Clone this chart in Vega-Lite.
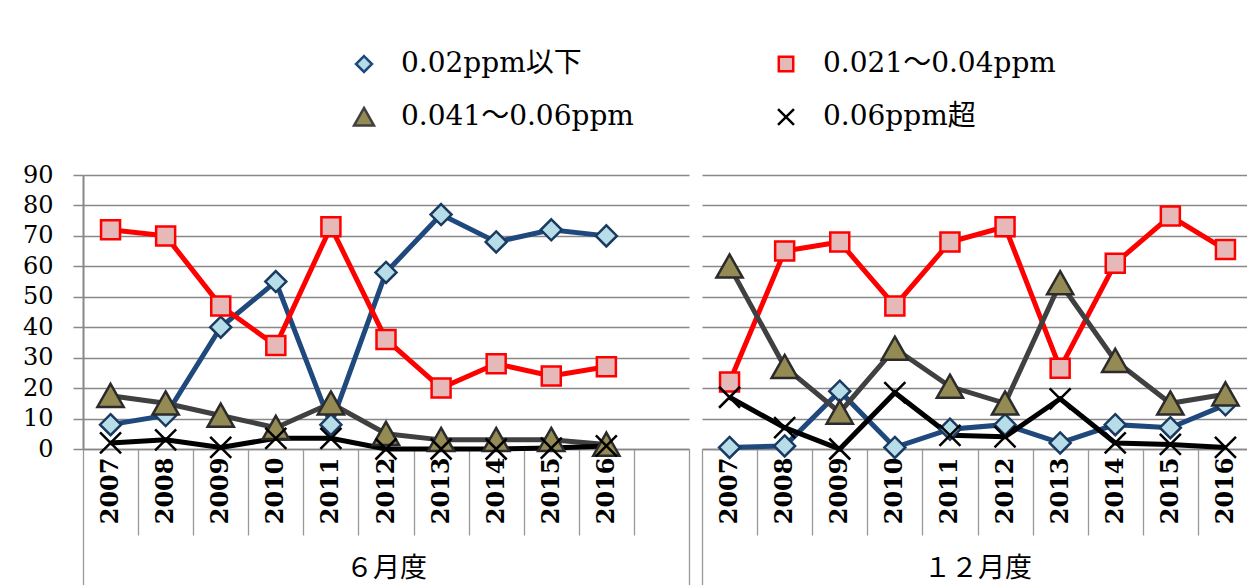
{
  "$schema": "https://vega.github.io/schema/vega-lite/v6.json",
  "background": "white",
  "padding": {"left": 22, "top": 50, "right": 0, "bottom": 0},
  "spacing": 0,
  "config": {
    "view": {"stroke": null},
    "font": "DejaVu Serif, Noto Sans CJK JP"
  },
  "data": {"values": [
    {"g": "６月度", "year": "2007", "s": "0.02ppm以下", "v": 8},
    {"g": "６月度", "year": "2008", "s": "0.02ppm以下", "v": 11},
    {"g": "６月度", "year": "2009", "s": "0.02ppm以下", "v": 40},
    {"g": "６月度", "year": "2010", "s": "0.02ppm以下", "v": 55},
    {"g": "６月度", "year": "2011", "s": "0.02ppm以下", "v": 8},
    {"g": "６月度", "year": "2012", "s": "0.02ppm以下", "v": 58},
    {"g": "６月度", "year": "2013", "s": "0.02ppm以下", "v": 77},
    {"g": "６月度", "year": "2014", "s": "0.02ppm以下", "v": 68},
    {"g": "６月度", "year": "2015", "s": "0.02ppm以下", "v": 72},
    {"g": "６月度", "year": "2016", "s": "0.02ppm以下", "v": 70},
    {"g": "６月度", "year": "2007", "s": "0.021～0.04ppm", "v": 72},
    {"g": "６月度", "year": "2008", "s": "0.021～0.04ppm", "v": 70},
    {"g": "６月度", "year": "2009", "s": "0.021～0.04ppm", "v": 47},
    {"g": "６月度", "year": "2010", "s": "0.021～0.04ppm", "v": 34},
    {"g": "６月度", "year": "2011", "s": "0.021～0.04ppm", "v": 73},
    {"g": "６月度", "year": "2012", "s": "0.021～0.04ppm", "v": 36},
    {"g": "６月度", "year": "2013", "s": "0.021～0.04ppm", "v": 20},
    {"g": "６月度", "year": "2014", "s": "0.021～0.04ppm", "v": 28},
    {"g": "６月度", "year": "2015", "s": "0.021～0.04ppm", "v": 24},
    {"g": "６月度", "year": "2016", "s": "0.021～0.04ppm", "v": 27},
    {"g": "６月度", "year": "2007", "s": "0.041～0.06ppm", "v": 17.5},
    {"g": "６月度", "year": "2008", "s": "0.041～0.06ppm", "v": 15},
    {"g": "６月度", "year": "2009", "s": "0.041～0.06ppm", "v": 11},
    {"g": "６月度", "year": "2010", "s": "0.041～0.06ppm", "v": 7},
    {"g": "６月度", "year": "2011", "s": "0.041～0.06ppm", "v": 15},
    {"g": "６月度", "year": "2012", "s": "0.041～0.06ppm", "v": 5},
    {"g": "６月度", "year": "2013", "s": "0.041～0.06ppm", "v": 3},
    {"g": "６月度", "year": "2014", "s": "0.041～0.06ppm", "v": 3},
    {"g": "６月度", "year": "2015", "s": "0.041～0.06ppm", "v": 3},
    {"g": "６月度", "year": "2016", "s": "0.041～0.06ppm", "v": 1.5},
    {"g": "６月度", "year": "2007", "s": "0.06ppm超", "v": 2},
    {"g": "６月度", "year": "2008", "s": "0.06ppm超", "v": 3},
    {"g": "６月度", "year": "2009", "s": "0.06ppm超", "v": 0.5},
    {"g": "６月度", "year": "2010", "s": "0.06ppm超", "v": 3.5},
    {"g": "６月度", "year": "2011", "s": "0.06ppm超", "v": 3.5},
    {"g": "６月度", "year": "2012", "s": "0.06ppm超", "v": 0},
    {"g": "６月度", "year": "2013", "s": "0.06ppm超", "v": 0},
    {"g": "６月度", "year": "2014", "s": "0.06ppm超", "v": 0},
    {"g": "６月度", "year": "2015", "s": "0.06ppm超", "v": 0.3},
    {"g": "６月度", "year": "2016", "s": "0.06ppm超", "v": 1},
    {"g": "１２月度", "year": "2007", "s": "0.02ppm以下", "v": 0.5},
    {"g": "１２月度", "year": "2008", "s": "0.02ppm以下", "v": 1},
    {"g": "１２月度", "year": "2009", "s": "0.02ppm以下", "v": 19},
    {"g": "１２月度", "year": "2010", "s": "0.02ppm以下", "v": 0.5},
    {"g": "１２月度", "year": "2011", "s": "0.02ppm以下", "v": 6.5},
    {"g": "１２月度", "year": "2012", "s": "0.02ppm以下", "v": 8},
    {"g": "１２月度", "year": "2013", "s": "0.02ppm以下", "v": 2},
    {"g": "１２月度", "year": "2014", "s": "0.02ppm以下", "v": 8},
    {"g": "１２月度", "year": "2015", "s": "0.02ppm以下", "v": 7},
    {"g": "１２月度", "year": "2016", "s": "0.02ppm以下", "v": 14.5},
    {"g": "１２月度", "year": "2007", "s": "0.021～0.04ppm", "v": 22},
    {"g": "１２月度", "year": "2008", "s": "0.021～0.04ppm", "v": 65},
    {"g": "１２月度", "year": "2009", "s": "0.021～0.04ppm", "v": 68},
    {"g": "１２月度", "year": "2010", "s": "0.021～0.04ppm", "v": 47},
    {"g": "１２月度", "year": "2011", "s": "0.021～0.04ppm", "v": 68},
    {"g": "１２月度", "year": "2012", "s": "0.021～0.04ppm", "v": 73},
    {"g": "１２月度", "year": "2013", "s": "0.021～0.04ppm", "v": 26.5},
    {"g": "１２月度", "year": "2014", "s": "0.021～0.04ppm", "v": 61},
    {"g": "１２月度", "year": "2015", "s": "0.021～0.04ppm", "v": 76.5},
    {"g": "１２月度", "year": "2016", "s": "0.021～0.04ppm", "v": 65.5},
    {"g": "１２月度", "year": "2007", "s": "0.041～0.06ppm", "v": 60},
    {"g": "１２月度", "year": "2008", "s": "0.041～0.06ppm", "v": 27},
    {"g": "１２月度", "year": "2009", "s": "0.041～0.06ppm", "v": 12},
    {"g": "１２月度", "year": "2010", "s": "0.041～0.06ppm", "v": 33},
    {"g": "１２月度", "year": "2011", "s": "0.041～0.06ppm", "v": 20.5},
    {"g": "１２月度", "year": "2012", "s": "0.041～0.06ppm", "v": 15},
    {"g": "１２月度", "year": "2013", "s": "0.041～0.06ppm", "v": 54.5},
    {"g": "１２月度", "year": "2014", "s": "0.041～0.06ppm", "v": 29},
    {"g": "１２月度", "year": "2015", "s": "0.041～0.06ppm", "v": 15},
    {"g": "１２月度", "year": "2016", "s": "0.041～0.06ppm", "v": 18},
    {"g": "１２月度", "year": "2007", "s": "0.06ppm超", "v": 17},
    {"g": "１２月度", "year": "2008", "s": "0.06ppm超", "v": 7},
    {"g": "１２月度", "year": "2009", "s": "0.06ppm超", "v": 0},
    {"g": "１２月度", "year": "2010", "s": "0.06ppm超", "v": 18.5},
    {"g": "１２月度", "year": "2011", "s": "0.06ppm超", "v": 4.5},
    {"g": "１２月度", "year": "2012", "s": "0.06ppm超", "v": 4},
    {"g": "１２月度", "year": "2013", "s": "0.06ppm超", "v": 16.5},
    {"g": "１２月度", "year": "2014", "s": "0.06ppm超", "v": 2},
    {"g": "１２月度", "year": "2015", "s": "0.06ppm超", "v": 1.5},
    {"g": "１２月度", "year": "2016", "s": "0.06ppm超", "v": 0.5}
  ]},
  "hconcat": [
    {
      "width": 606,
      "height": 274,
      "transform": [{"filter": "datum.g == '６月度'"}],
      "encoding": {
        "x": {
          "field": "year", "type": "nominal", "bandPosition": 0.5,
          "scale": {"type": "band", "domain": ["2007","2008","2009","2010","2011","2012","2013","2014","2015","2016"," "], "paddingInner": 0, "paddingOuter": 0},
          "axis": {
            "title": "６月度", "titleFont": "Noto Sans CJK JP", "titleFontSize": 27, "titleFontWeight": "normal", "titleColor": "black", "titlePadding": -30,
            "labelAngle": -90, "labelFont": "DejaVu Serif", "labelFontWeight": "bold", "labelFontSize": 24, "labelColor": "black",
            "tickBand": "extent", "tickColor": "#999999", "tickWidth": 1.3,
            "tickSize": {"condition": {"test": "datum.extra || datum.value == ' '", "value": 136}, "value": 86},
            "labelPadding": -78,
            "domain": true, "domainColor": "#888888", "domainWidth": 1.5, "grid": false
          }
        },
        "y": {
          "field": "v", "type": "quantitative",
          "scale": {"domain": [0, 90], "nice": false},
          "axis": {
            "title": null, "values": [0,10,20,30,40,50,60,70,80,90],
            "grid": true, "gridColor": "#888888", "gridWidth": 1.5,
            "domain": true, "domainColor": "#888888", "domainWidth": 2,
            "ticks": true, "tickSize": 10, "tickColor": "#888888", "tickWidth": 1.5,
            "labelFont": "DejaVu Serif", "labelFontSize": 24, "labelColor": "black", "labelPadding": 20, "labelFlush": false
          }
        }
      },
      "layer": [
        {
          "mark": {"type": "line", "strokeWidth": 5},
          "encoding": {
            "color": {"field": "s", "type": "nominal",
              "scale": {"domain": ["0.02ppm以下","0.021～0.04ppm","0.041～0.06ppm","0.06ppm超"], "range": ["#1F497D","#FF0000","#404040","#000000"]}}
          }
        },
        {
          "mark": {"type": "point", "filled": true, "size": 625, "strokeWidth": 2.5, "opacity": 1},
          "encoding": {
            "shape": {"field": "s", "type": "nominal",
              "scale": {"domain": ["0.02ppm以下","0.021～0.04ppm","0.041～0.06ppm","0.06ppm超"],
                "range": ["M0,-0.84L0.84,0L0,0.84L-0.84,0Z", "M-0.76,-0.76H0.76V0.76H-0.76Z", "M0,-0.95L1.05,0.9L-1.05,0.9Z", "M-0.84,-0.84L0.84,0.84M-0.84,0.84L0.84,-0.84"]},
              "legend": {
                "orient": "none", "legendX": 267, "legendY": -125, "columns": 2, "direction": "horizontal", "title": null, "padding": 0,
                "symbolSize": 361, "symbolStrokeWidth": 2.5, "labelFont": "DejaVu Serif, Noto Sans CJK JP", "labelFontSize": 28, "labelColor": "black",
                "labelOffset": 23, "labelLimit": 0, "columnPadding": 138, "rowPadding": 24
              }},
            "fill": {"field": "s", "type": "nominal",
              "scale": {"domain": ["0.02ppm以下","0.021～0.04ppm","0.041～0.06ppm","0.06ppm超"], "range": ["#B7DEE8","#E6B9B8","#948A54","#000000"]}},
            "stroke": {"field": "s", "type": "nominal",
              "scale": {"domain": ["0.02ppm以下","0.021～0.04ppm","0.041～0.06ppm","0.06ppm超"], "range": ["#1B3A60","#FF0000","#2B2B2B","#000000"]}}
          }
        }
      ]
    },
    {
      "width": 551,
      "height": 274,
      "transform": [{"filter": "datum.g == '１２月度'"}],
      "encoding": {
        "x": {
          "field": "year", "type": "nominal", "bandPosition": 0.5,
          "scale": {"type": "band", "domain": ["2007","2008","2009","2010","2011","2012","2013","2014","2015","2016"], "paddingInner": 0, "paddingOuter": 0},
          "axis": {
            "title": "１２月度", "titleFont": "Noto Sans CJK JP", "titleFontSize": 27, "titleFontWeight": "normal", "titleColor": "black", "titlePadding": -30,
            "labelAngle": -90, "labelFont": "DejaVu Serif", "labelFontWeight": "bold", "labelFontSize": 24, "labelColor": "black",
            "tickBand": "extent", "tickColor": "#999999", "tickWidth": 1.3,
            "tickSize": {"condition": {"test": "datum.extra || datum.value == '2016'", "value": 136}, "value": 86},
            "labelPadding": {"condition": {"test": "datum.value == '2016'", "value": -128}, "value": -78},
            "domain": true, "domainColor": "#888888", "domainWidth": 1.5, "grid": false
          }
        },
        "y": {
          "field": "v", "type": "quantitative",
          "scale": {"domain": [0, 90], "nice": false},
          "axis": {
            "title": null, "values": [0,10,20,30,40,50,60,70,80,90],
            "grid": true, "gridColor": "#888888", "gridWidth": 1.5,
            "domain": false, "ticks": false, "labels": false
          }
        }
      },
      "layer": [
        {
          "mark": {"type": "line", "strokeWidth": 5},
          "encoding": {
            "color": {"field": "s", "type": "nominal",
              "scale": {"domain": ["0.02ppm以下","0.021～0.04ppm","0.041～0.06ppm","0.06ppm超"], "range": ["#1F497D","#FF0000","#404040","#000000"]}}
          }
        },
        {
          "mark": {"type": "point", "filled": true, "size": 625, "strokeWidth": 2.5, "opacity": 1},
          "encoding": {
            "shape": {"field": "s", "type": "nominal",
              "scale": {"domain": ["0.02ppm以下","0.021～0.04ppm","0.041～0.06ppm","0.06ppm超"],
                "range": ["M0,-0.84L0.84,0L0,0.84L-0.84,0Z", "M-0.76,-0.76H0.76V0.76H-0.76Z", "M0,-0.95L1.05,0.9L-1.05,0.9Z", "M-0.84,-0.84L0.84,0.84M-0.84,0.84L0.84,-0.84"]}},
            "fill": {"field": "s", "type": "nominal",
              "scale": {"domain": ["0.02ppm以下","0.021～0.04ppm","0.041～0.06ppm","0.06ppm超"], "range": ["#B7DEE8","#E6B9B8","#948A54","#000000"]}},
            "stroke": {"field": "s", "type": "nominal",
              "scale": {"domain": ["0.02ppm以下","0.021～0.04ppm","0.041～0.06ppm","0.06ppm超"], "range": ["#1B3A60","#FF0000","#2B2B2B","#000000"]}}
          }
        }
      ]
    }
  ]
}
